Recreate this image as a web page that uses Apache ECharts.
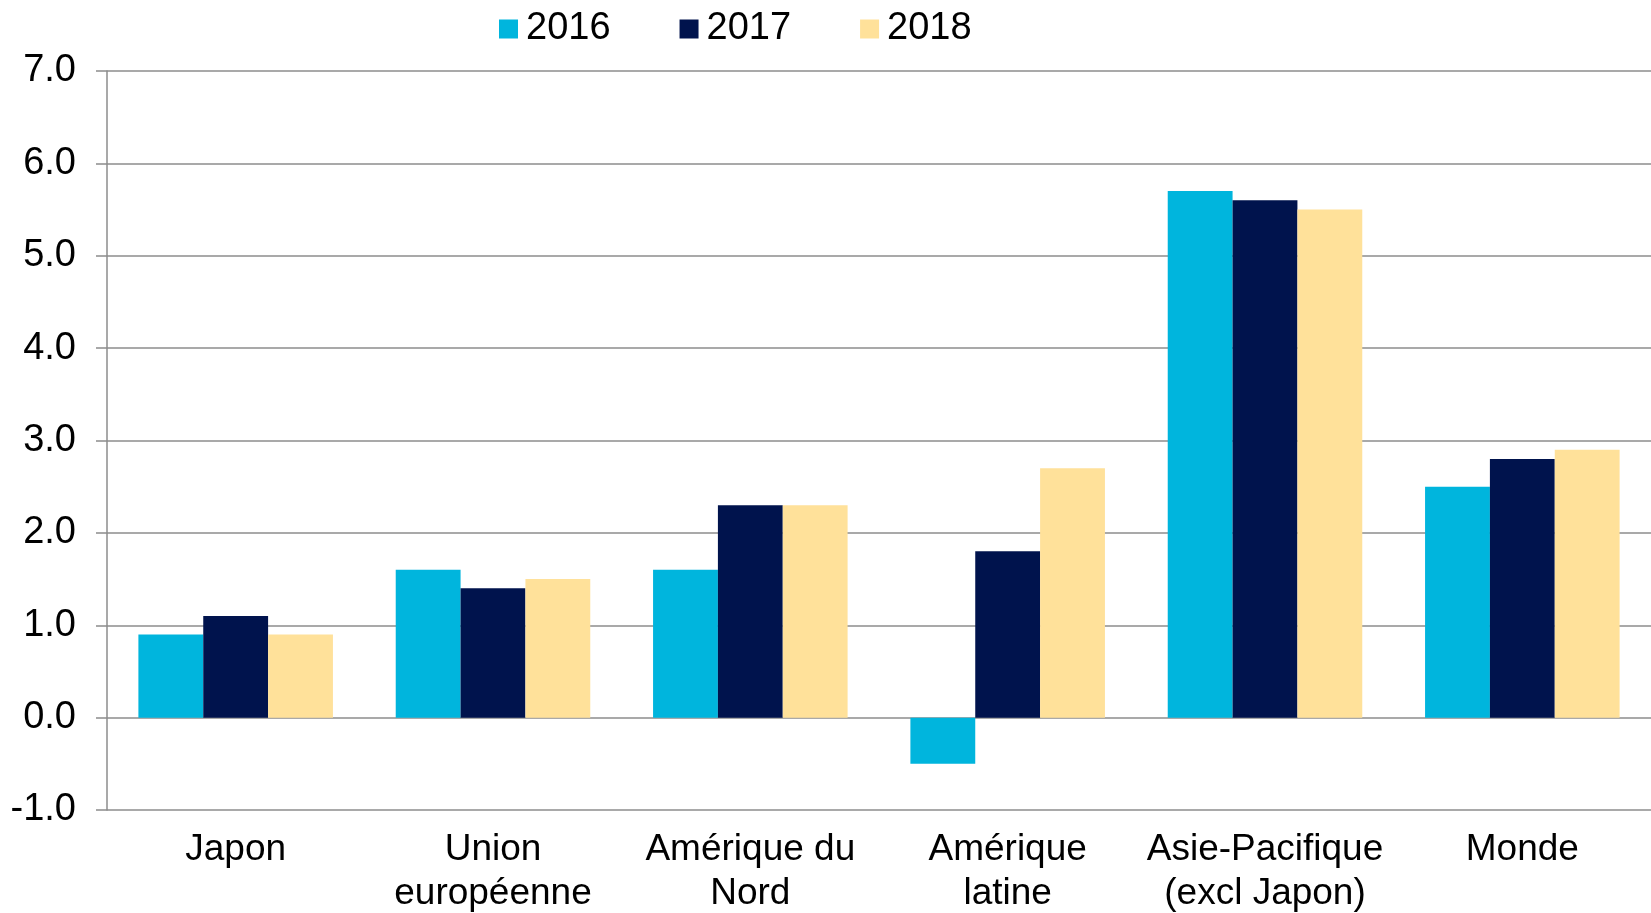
<!DOCTYPE html>
<html>
<head>
<meta charset="utf-8">
<script src="https://cdn.jsdelivr.net/npm/echarts@6/dist/echarts.min.js"></script>
<style>
  html, body { margin: 0; padding: 0; background: #ffffff; }
  #chart { width: 1651px; height: 913px; }
</style>
</head>
<body>
<div id="chart"></div>
<script>
// data
var categories = ['Japon', 'Union\neuropéenne', 'Amérique du\nNord', 'Amérique\nlatine', 'Asie-Pacifique\n(excl Japon)', 'Monde'];
var years = ['2016', '2017', '2018'];
var values2016 = [0.9, 1.6, 1.6, -0.5, 5.7, 2.5];
var values2017 = [1.1, 1.4, 2.3, 1.8, 5.6, 2.8];
var values2018 = [0.9, 1.5, 2.3, 2.7, 5.5, 2.9];
var colors = ['#00b5dd', '#00134d', '#ffe19a'];

var myChart = echarts.init(document.getElementById('chart'));
var font = '"Liberation Sans", Arial, sans-serif';
var gridGray = '#8c8c8c';

function makeSeries(name, data, color) {
    return {
        name: name,
        type: 'bar',
        data: data,
        barWidth: '25.2%',
        barGap: '0%',
        itemStyle: { color: color },
        animation: false
    };
}

var option = {
    backgroundColor: '#ffffff',
    textStyle: { fontFamily: font },
    legend: {
        left: 494,
        top: 4,
        icon: 'rect',
        itemWidth: 19,
        itemHeight: 19,
        itemGap: 69,
        data: years,
        textStyle: {
            fontFamily: font,
            fontSize: 38,
            color: '#000',
            lineHeight: 40,
            padding: [0, 0, 0, 3]
        }
    },
    grid: {
        left: 107,
        right: 0,
        top: 71,
        bottom: 103,
        containLabel: false,
        outerBoundsMode: 'none'
    },
    xAxis: {
        type: 'category',
        data: categories,
        axisLine: { show: false },
        axisTick: { show: false },
        splitLine: { show: false },
        axisLabel: {
            interval: 0,
            margin: 18,
            fontFamily: font,
            fontSize: 37,
            lineHeight: 44,
            color: '#000'
        }
    },
    yAxis: {
        type: 'value',
        min: -1,
        max: 7,
        interval: 1,
        axisLine: { show: true, lineStyle: { color: gridGray, width: 1.5 } },
        axisTick: { show: true, length: 11, lineStyle: { color: gridGray, width: 1.5 } },
        splitLine: { show: true, lineStyle: { color: gridGray, width: 1.5 } },
        axisLabel: {
            margin: 31,
            padding: [3, 0, 0, 0],
            fontFamily: font,
            fontSize: 38,
            color: '#000',
            formatter: function (v) { return v.toFixed(1); }
        }
    },
    series: [
        makeSeries(years[0], values2016, colors[0]),
        makeSeries(years[1], values2017, colors[1]),
        makeSeries(years[2], values2018, colors[2])
    ]
};

option && myChart.setOption(option);

window.onresize = function () {
    myChart.resize();
};
</script>
</body>
</html>
